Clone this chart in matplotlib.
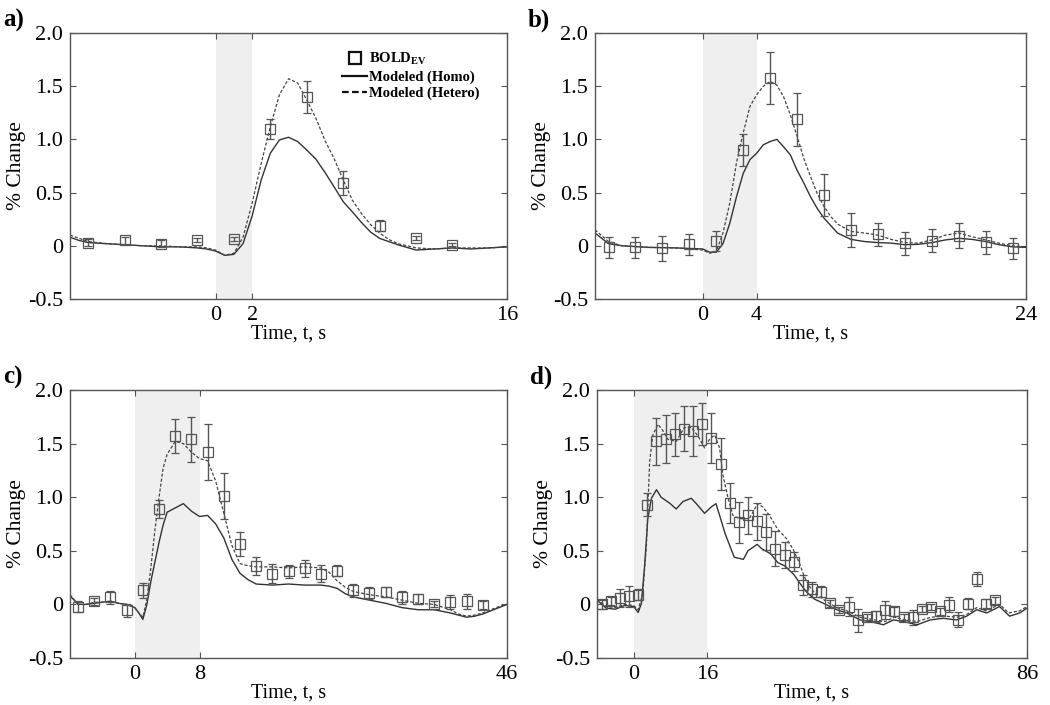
import matplotlib
matplotlib.use("Agg")
import matplotlib.pyplot as plt
from matplotlib.lines import Line2D

plt.rcParams['font.family'] = ['Liberation Serif', 'DejaVu Serif']
plt.rcParams['mathtext.fontset'] = 'custom'
plt.rcParams['mathtext.rm'] = 'Liberation Serif'
plt.rcParams['mathtext.bf'] = 'Liberation Serif:bold'

# ---- panel a (2 s stimulus) ----
a_bold_t = [-7, -5, -3, -1, 1, 3, 5, 7, 9, 11, 13]
a_bold = [0.03, 0.05, 0.02, 0.055, 0.065, 1.10, 1.40, 0.59, 0.19, 0.07, 0.01]
a_err = [0.03, 0.03, 0.03, 0.02, 0.02, 0.095, 0.15, 0.11, 0.055, 0.02, 0.015]
a_mod_t = [-8, -7.5, -7, -6, -5, -4, -3, -2, -1, -0.5, 0, 0.5, 1, 1.5, 2, 2.5, 3, 3.5, 4,
           4.5, 5, 5.5, 6, 6.5, 7, 7.5, 8, 8.5, 9, 9.5, 10, 10.5, 11, 12, 13, 14, 15, 16]
a_homo = [0.08, 0.05, 0.03, 0.02, 0.01, 0.0, -0.01, -0.01, -0.02, -0.03, -0.05, -0.09, -0.08,
          0.02, 0.28, 0.62, 0.87, 0.995, 1.02, 0.98, 0.90, 0.815, 0.69, 0.555, 0.415, 0.32,
          0.22, 0.13, 0.07, 0.04, 0.01, -0.015, -0.04, -0.03, -0.02, -0.03, -0.02, -0.01]
a_hetero = [0.10, 0.07, 0.04, 0.02, 0.01, 0.0, 0.0, -0.01, -0.01, -0.02, -0.04, -0.09, -0.07,
            0.08, 0.40, 0.775, 1.12, 1.42, 1.57, 1.53, 1.37, 1.20, 0.99, 0.82, 0.62, 0.43,
            0.305, 0.20, 0.12, 0.06, 0.02, 0.0, -0.02, -0.03, -0.02, -0.02, -0.02, -0.01]

# ---- panel b (4 s stimulus) ----
b_bold_t = [-7, -5, -3, -1, 1, 3, 5, 7, 9, 11, 13, 15, 17, 19, 21, 23]
b_bold = [-0.014, -0.014, -0.024, 0.014, 0.048, 0.90, 1.574, 1.19, 0.477, 0.148, 0.108,
          0.023, 0.048, 0.095, 0.033, -0.024]
b_err = [0.097, 0.097, 0.12, 0.10, 0.094, 0.15, 0.245, 0.25, 0.20, 0.157, 0.11, 0.11,
         0.11, 0.116, 0.11, 0.097]
b_mod_t = [-8, -7, -6, -4, -2, 0, 0.5, 1, 1.5, 2, 2.5, 3, 3.5, 4, 4.5, 5, 5.5, 6, 6.5, 7,
           7.5, 8, 8.5, 9, 9.5, 10, 11, 12, 13, 14, 15, 16, 17, 18, 19, 20, 21, 22, 23, 24]
b_homo = [0.12, 0.02, 0.0, -0.015, -0.02, -0.03, -0.06, -0.06, 0.02, 0.21, 0.46, 0.68, 0.81,
          0.87, 0.95, 0.98, 1.0, 0.93, 0.855, 0.71, 0.59, 0.46, 0.35, 0.26, 0.19, 0.12, 0.06,
          0.04, 0.03, 0.025, 0.01, 0.014, 0.03, 0.055, 0.07, 0.06, 0.04, 0.01, -0.01, -0.015]
b_hetero = [0.15, 0.04, 0.0, -0.015, -0.02, -0.04, -0.07, -0.055, 0.12, 0.40, 0.78, 1.06,
            1.31, 1.42, 1.50, 1.545, 1.51, 1.40, 1.23, 1.03, 0.82, 0.65, 0.49, 0.37, 0.275,
            0.205, 0.135, 0.12, 0.10, 0.06, 0.03, 0.025, 0.055, 0.10, 0.12, 0.085, 0.055,
            0.025, 0.0, -0.01]

# ---- panel c (8 s stimulus) ----
c_bold_t = list(range(-7, 44, 2))
c_bold = [-0.02, 0.027, 0.065, -0.057, 0.13, 0.89, 1.574, 1.54, 1.42, 1.01, 0.565, 0.36,
          0.285, 0.307, 0.338, 0.288, 0.316, 0.13, 0.104, 0.114, 0.068, 0.049, 0.002, 0.021,
          0.027, -0.004]
c_err = [0.05, 0.03, 0.06, 0.065, 0.07, 0.085, 0.16, 0.21, 0.26, 0.215, 0.11, 0.085, 0.09,
         0.065, 0.08, 0.08, 0.055, 0.057, 0.055, 0.045, 0.06, 0.05, 0.03, 0.062, 0.07, 0.04]
c_mod_t = [-8, -7, -6, -5, -4, -3, -2, -1, 0, 0.5, 1, 1.5, 2, 2.5, 3, 3.5, 4, 5, 6, 7, 8, 9,
           10, 11, 12, 13, 14, 15, 17, 19, 21, 23, 24, 25, 26, 27, 29, 31, 33, 35, 37, 39, 40,
           41, 42, 43, 44, 45, 46]
c_homo = [0.08, 0.0, 0.0, 0.01, 0.02, 0.03, 0.01, 0.0, -0.03, -0.08, -0.14, 0.0, 0.22, 0.40,
          0.58, 0.74, 0.86, 0.90, 0.94, 0.87, 0.82, 0.83, 0.75, 0.62, 0.42, 0.29, 0.23, 0.19,
          0.18, 0.19, 0.18, 0.18, 0.17, 0.15, 0.10, 0.07, 0.04, 0.01, -0.03, -0.05, -0.05,
          -0.08, -0.10, -0.12, -0.11, -0.09, -0.06, -0.03, 0.0]
c_hetero = [0.09, 0.0, 0.0, 0.02, 0.02, 0.03, 0.01, 0.0, -0.03, -0.08, -0.12, 0.05, 0.35,
            0.70, 1.0, 1.27, 1.40, 1.52, 1.50, 1.42, 1.36, 1.34, 1.15, 0.85, 0.55, 0.38, 0.36,
            0.35, 0.35, 0.34, 0.35, 0.34, 0.30, 0.22, 0.16, 0.12, 0.09, 0.07, 0.04, 0.01, 0.0,
            -0.05, -0.09, -0.11, -0.10, -0.08, -0.05, -0.02, 0.0]

# ---- panel d (16 s stimulus) ----
d_bold_t = list(range(-7, 80, 2))
d_bold = [0.0, 0.03, 0.06, 0.075, 0.09, 0.93, 1.52, 1.54, 1.585, 1.64, 1.615, 1.68, 1.55,
          1.31, 0.946, 0.767, 0.83, 0.774, 0.673, 0.52, 0.46, 0.40, 0.18, 0.14, 0.12, 0.01,
          -0.05, -0.02, -0.15, -0.12, -0.11, -0.05, -0.066, -0.12, -0.12, -0.044, -0.025,
          -0.066, -0.003, -0.145, 0.006, 0.24, 0.006, 0.038]
d_err = [0.04, 0.04, 0.08, 0.095, 0.05, 0.11, 0.22, 0.225, 0.20, 0.21, 0.235, 0.195, 0.235,
         0.245, 0.185, 0.19, 0.17, 0.17, 0.17, 0.16, 0.12, 0.09, 0.09, 0.07, 0.05, 0.03,
         0.03, 0.09, 0.11, 0.03, 0.05, 0.085, 0.04, 0.03, 0.07, 0.03, 0.03, 0.03, 0.07, 0.07,
         0.05, 0.066, 0.04, 0.03]
d_mod_t = [-8, -6, -4, -2, 0, 1, 1.7, 2.4, 3.1, 3.9, 5, 6, 8, 9.3, 10.8, 12.6, 13.7, 15.5, 17,
           18, 18.8, 20, 21, 22, 24, 25, 27, 28, 30, 31.5, 33, 35, 36.3, 37.7, 39.5, 42, 44.4,
           46.6, 49.5, 51.7, 54.6, 56.8, 59, 62, 64.8, 67.7, 70.6, 72.8, 75, 77.2, 80, 82.2,
           84.4, 86]
d_homo = [0.04, -0.035, -0.045, -0.01, -0.02, -0.075, 0.01, 0.36, 0.80, 0.99, 1.07, 1.0,
          0.94, 0.89, 0.96, 0.99, 0.94, 0.85, 0.91, 0.94, 0.83, 0.66, 0.55, 0.44, 0.42, 0.50,
          0.56, 0.52, 0.47, 0.39, 0.36, 0.28, 0.20, 0.12, 0.05, 0.0, -0.05, -0.08, -0.145,
          -0.16, -0.19, -0.145, -0.16, -0.19, -0.145, -0.13, -0.145, -0.11, -0.05, -0.08,
          -0.02, -0.11, -0.08, -0.035]
d_het_t = [-8, -6, -4, -2, 0, 1, 2, 2.8, 3.5, 4.2, 5.3, 6.4, 7.5, 9.3, 11.1, 12.6, 14.1, 15.5,
           16.6, 17.7, 18.8, 19.5, 20.6, 21.7, 23.1, 25.3, 27.1, 28.2, 29.7, 31.5, 33.3, 34.8,
           36.3, 37.3, 38.4, 39.5, 42, 44.4, 46.6, 49.5, 52, 55, 57, 59, 62, 65, 68, 71, 73,
           75, 77, 80, 82, 84.4, 86]
d_hetero = [0.05, -0.02, -0.03, 0.0, -0.01, -0.05, 0.1, 0.55, 1.33, 1.58, 1.68, 1.62, 1.54,
            1.52, 1.65, 1.65, 1.57, 1.46, 1.54, 1.58, 1.46, 1.21, 1.0, 0.83, 0.80, 0.80, 0.94,
            0.91, 0.83, 0.70, 0.62, 0.52, 0.38, 0.26, 0.17, 0.11, 0.03, -0.03, -0.06, -0.12,
            -0.14, -0.16, -0.12, -0.14, -0.16, -0.12, -0.11, -0.12, -0.09, -0.03, -0.06, 0.0,
            -0.08, -0.06, -0.02]

panels = [
    ('a)', [0.0667, 0.5759, 0.4162, 0.3773], 16, 2, a_bold_t, a_bold, a_err,
     a_mod_t, a_homo, a_mod_t, a_hetero),
    ('b)', [0.5667, 0.5759, 0.4105, 0.3773], 24, 4, b_bold_t, b_bold, b_err,
     b_mod_t, b_homo, b_mod_t, b_hetero),
    ('c)', [0.0667, 0.0667, 0.4162, 0.3801], 46, 8, c_bold_t, c_bold, c_err,
     c_mod_t, c_homo, c_mod_t, c_hetero),
    ('d)', [0.5686, 0.0667, 0.4095, 0.3801], 86, 16, d_bold_t, d_bold, d_err,
     d_mod_t, d_homo, d_het_t, d_hetero),
]

fig = plt.figure(figsize=(10.5, 7.05), dpi=100)

for lab, pos, tmax, stim, bt, bv, be, mt, homo, ht, het in panels:
    ax = fig.add_axes(pos)
    ax.axvspan(0, stim, color='#efefef', lw=0, zorder=0)
    ax.plot(mt, homo, color='#333333', lw=1.0, zorder=2)
    ax.plot(ht, het, color='#444444', lw=0.9, ls=(0, (2.5, 1.5)), zorder=2)
    ax.errorbar(bt, bv, yerr=be, fmt='s', ms=7, mfc='none', mec='#555555', mew=0.9,
                ecolor='#555555', elinewidth=1.0, capsize=3, capthick=1.0, zorder=3)
    ax.set_xlim(-8, tmax)
    ax.set_ylim(-0.5, 2.0)
    ax.set_xticks([0, stim, tmax])
    ax.set_xticklabels(['0', str(stim), str(tmax)])
    ax.set_yticks([-0.5, 0, 0.5, 1.0, 1.5, 2.0])
    ax.set_yticklabels(['-0.5', '0', '0.5', '1.0', '1.5', '2.0'])
    ax.tick_params(direction='in', length=4, width=0.8, color='#555555', labelsize=16,
                   top=True, right=True, pad=5)
    for s in ax.spines.values():
        s.set_color('#555555')
        s.set_linewidth(1.0)
    ax.set_xlabel('Time, t, s', fontsize=14.5, labelpad=0)
    ax.set_ylabel('% Change', fontsize=15.5, labelpad=1)
    fig.text(pos[0] - 0.064, pos[1] + pos[3] + 0.034, lab, fontsize=18, fontweight='bold',
             va='top', ha='left')

    if lab == 'a)':
        handles = [
            Line2D([], [], ls='none', marker='s', ms=8, mfc='none', mec='#111111', mew=1.6),
            Line2D([], [], color='#111111', lw=1.6),
            Line2D([], [], color='#111111', lw=1.6, ls=(0, (3, 1.5))),
        ]
        labels = [r'$\mathbf{BOLD}_{\mathbf{EV}}$', 'Modeled (Homo)', 'Modeled (Hetero)']
        ax.legend(handles, labels, loc='upper left', bbox_to_anchor=(0.61, 0.955),
                  frameon=False, handlelength=1.7, handletextpad=0.15, labelspacing=0.2,
                  borderaxespad=0, prop={'weight': 'bold', 'size': 10.5})

fig.savefig('out.png', dpi=100)
